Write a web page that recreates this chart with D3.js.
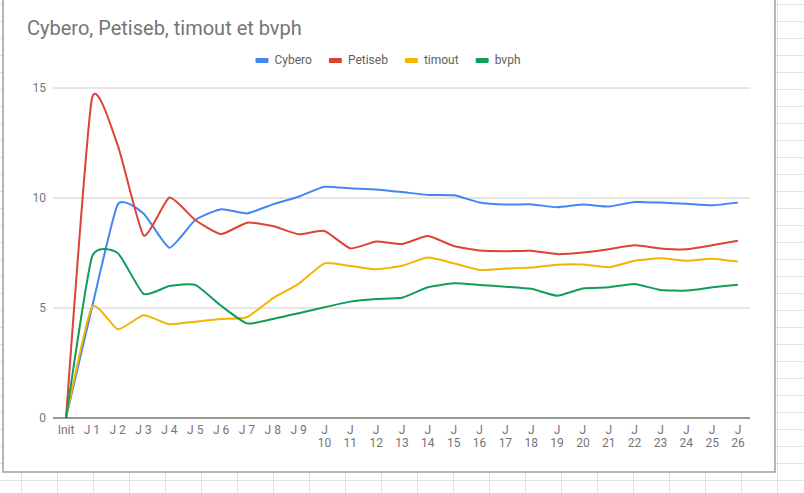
<!DOCTYPE html>
<html>
<head>
<meta charset="utf-8">
<script src="https://cdn.jsdelivr.net/npm/d3@7"></script>
<style>
  body { margin: 0; background: #fff; }
  svg { display: block; font-family: Roboto, Arial, sans-serif; }
</style>
</head>
<body>
<div id="chart"></div>
<script>
// categories and series
const categories = ["Init", "J 1", "J 2", "J 3", "J 4", "J 5", "J 6", "J 7", "J 8", "J 9",
    "J 10", "J 11", "J 12", "J 13", "J 14", "J 15", "J 16", "J 17", "J 18", "J 19",
    "J 20", "J 21", "J 22", "J 23", "J 24", "J 25", "J 26"];
const cybero = [0, 5.0, 9.7, 9.3, 7.74, 9.0, 9.49, 9.3, 9.71, 10.06, 10.51, 10.44, 10.39, 10.27,
    10.14, 10.12, 9.8, 9.7, 9.71, 9.58, 9.71, 9.61, 9.82, 9.79, 9.74, 9.67, 9.79];
const petiseb = [0, 14.5, 12.4, 8.3, 10.02, 9.0, 8.36, 8.88, 8.73, 8.35, 8.5, 7.71, 8.02, 7.91,
    8.27, 7.82, 7.61, 7.58, 7.6, 7.45, 7.52, 7.67, 7.85, 7.71, 7.67, 7.85, 8.06];
const timout = [0, 5.05, 4.03, 4.67, 4.26, 4.38, 4.5, 4.58, 5.44, 6.1, 7.03, 6.91, 6.76, 6.92,
    7.29, 7.03, 6.73, 6.79, 6.84, 6.97, 6.98, 6.85, 7.15, 7.26, 7.15, 7.24, 7.11];
const bvph = [0, 7.3, 7.5, 5.64, 6.0, 6.05, 5.1, 4.3, 4.5, 4.76, 5.03, 5.29, 5.41, 5.47,
    5.94, 6.12, 6.05, 5.97, 5.87, 5.56, 5.89, 5.94, 6.09, 5.82, 5.79, 5.94, 6.06];
const seriesNames = ["Cybero", "Petiseb", "timout", "bvph"];
const yTicks = [0, 5, 10, 15];

const title = "Cybero, Petiseb, timout et bvph";
const colors = ["#4285f4", "#db4437", "#f4b400", "#0f9d58"];
const series = [cybero, petiseb, timout, bvph].map((values, i) => ({ name: seriesNames[i], values: values, color: colors[i] }));

const width = 804, height = 493;
let svg = d3.select("#chart").append("svg")
    .attr("width", width)
    .attr("height", height);

// spreadsheet cells behind the chart
let sheet = svg.append("g").attr("stroke", "#e2e2e2").attr("stroke-width", 1);
for (let y = 4.5; y < height; y += 17) {
    sheet.append("line").attr("x1", 0).attr("x2", width).attr("y1", y).attr("y2", y);
}
for (let x = 21.5; x < width; x += 36) {
    sheet.append("line").attr("x1", x).attr("x2", x).attr("y1", 0).attr("y2", height);
}

// chart frame
svg.append("rect")
    .attr("x", 3).attr("y", -5)
    .attr("width", 772).attr("height", 477)
    .attr("fill", "#fff")
    .attr("stroke", "#9e9e9e")
    .attr("stroke-width", 1.5);

svg.append("text")
    .attr("x", 27).attr("y", 35)
    .attr("font-size", 20)
    .attr("fill", "#757575")
    .text(title);

let x = d3.scalePoint().domain(categories).range([66, 738]);
let y = d3.scaleLinear().domain([0, 15]).range([418, 88]);

// gridlines
svg.append("g").selectAll("line")
    .data(yTicks.filter(d => d > 0))
    .enter().append("line")
    .attr("x1", 53).attr("x2", 750)
    .attr("y1", d => y(d)).attr("y2", d => y(d))
    .attr("stroke", "#cccccc").attr("stroke-width", 1);

svg.append("g").selectAll("text")
    .data(yTicks)
    .enter().append("text")
    .attr("x", 46).attr("y", d => y(d) + 4)
    .attr("text-anchor", "end")
    .attr("font-size", 12)
    .attr("fill", "#757575")
    .text(d => d);

// x labels, long ones wrap after the "J"
let xLabels = svg.append("g").selectAll("text")
    .data(categories)
    .enter().append("text")
    .attr("text-anchor", "middle")
    .attr("font-size", 12)
    .attr("fill", "#757575");
xLabels.each(function(d) {
    let t = d3.select(this);
    let parts = d.length > 3 ? d.split(" ") : [d];
    parts.forEach((p, i) => {
        t.append("tspan").attr("x", x(d)).attr("y", 434 + i * 12.5).text(p);
    });
});

let line = d3.line()
    .x((d, i) => x(categories[i]))
    .y(d => y(d))
    .curve(d3.curveCardinal.tension(0.5));

svg.append("g").selectAll("path")
    .data(series)
    .enter().append("path")
    .attr("d", d => line(d.values))
    .attr("fill", "none")
    .attr("stroke", d => d.color)
    .attr("stroke-width", 2);

// baseline on top
svg.append("line")
    .attr("x1", 53).attr("x2", 750)
    .attr("y1", y(0)).attr("y2", y(0))
    .attr("stroke", "#333").attr("stroke-width", 1);

// legend
let legend = svg.append("g");
let cursor = 0;
series.forEach(s => {
    let item = legend.append("g").attr("transform", `translate(${cursor},0)`);
    item.append("rect")
        .attr("x", 0).attr("y", 58)
        .attr("width", 13).attr("height", 5).attr("rx", 1)
        .attr("fill", s.color);
    let label = item.append("text")
        .attr("x", 19).attr("y", 64)
        .attr("font-size", 12)
        .attr("fill", "#616161")
        .text(s.name);
    cursor += 19 + label.node().getComputedTextLength() + 17;
});
let legendWidth = cursor - 17;
legend.attr("transform", `translate(${388 - legendWidth / 2},0)`);
</script>
</body>
</html>
